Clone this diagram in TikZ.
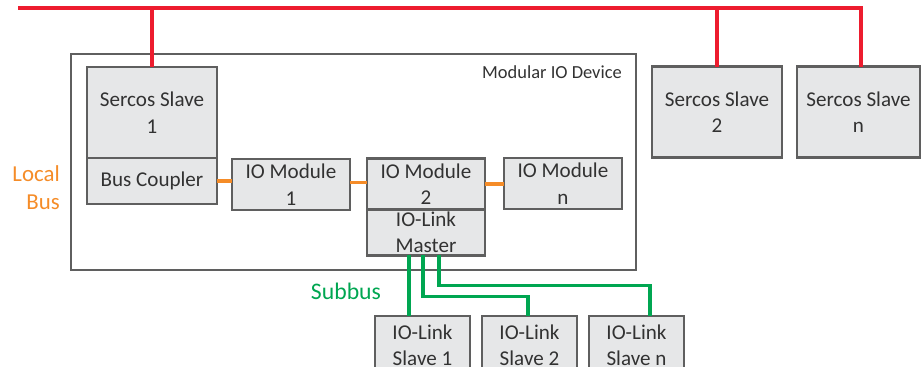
\documentclass[tikz,border=0pt]{standalone}
\usepackage{fontspec}
\setmainfont{Carlito}
\definecolor{sercosred}{RGB}{237, 28, 46}
\definecolor{localorange}{RGB}{245, 140, 40}
\definecolor{subgreen}{RGB}{0, 166, 81}
\definecolor{boxgray}{RGB}{230, 231, 232}
\definecolor{edgegray}{RGB}{95, 95, 95}
\definecolor{textgray}{RGB}{50, 50, 50}
\usetikzlibrary{positioning}

\begin{document}
\begin{tikzpicture}[
    x=0.02cm, y=-0.02cm,
    font=\fontsize{12}{15}\selectfont, text=textgray,
    unit/.style={draw=edgegray, line width=1.4pt, fill=boxgray, align=center, inner sep=0pt, outer sep=0pt},
    slavebox/.style={unit, minimum width=2.6cm, minimum height=1.82cm},
    modbox/.style={unit, minimum width=2.36cm, minimum height=1.02cm},
    linkbox/.style={unit, minimum width=1.9cm, minimum height=1.16cm},
    sercos/.style={line width=2.2pt, color=sercosred},
    localbus/.style={line width=2pt, color=localorange},
    subbus/.style={line width=2.2pt, color=subgreen}
  ]
    \useasboundingbox (0,0) rectangle (921,366);

    \node[draw=edgegray, line width=1pt, minimum width=11.3cm, minimum height=4.32cm] (device) at (353.5,162) {};
    \node[anchor=east, font=\fontsize{10.5}{13}\selectfont] (devlabel) at (628,72) {Modular IO Device};

    \node[slavebox] (sslave1) at (152,112.5) {Sercos Slave\\1};
    \node[slavebox, minimum height=0.92cm, below=0pt of sslave1] (coupler) {Bus Coupler};
    \node[modbox] (mod1) at (291,184.5) {IO Module\\1};
    \node[modbox] (mod2) at (426,184) {IO Module\\2};
    \node[modbox, minimum height=0.92cm, below=0pt of mod2] (master) {IO-Link\\Master};
    \node[modbox] (modn) at (563,183.5) {IO Module\\n};
    \node[slavebox] (sslave2) at (717,112) {Sercos Slave\\2};
    \node[slavebox, minimum width=2.46cm] (sslaven) at (858.5,112) {Sercos Slave\\n};

    \node[linkbox, anchor=north] (islave1) at (422.5,316) {IO-Link\\Slave 1};
    \node[linkbox, anchor=north] (islave2) at (529.5,316) {IO-Link\\Slave 2};
    \node[linkbox, anchor=north] (islaven) at (636.5,316) {IO-Link\\Slave n};

    \node[anchor=east, align=right, text=localorange, font=\fontsize{13}{16}\selectfont] (lbllocal) at (66,188) {Local\\Bus};
    \node[text=subgreen, font=\fontsize{13.5}{16}\selectfont] (lblsub) at (346,291) {Subbus};

    % sercos bus
    \coordinate (busstart) at (18,8);
    \draw[sercos] (busstart) -| ([xshift=0.05cm]sslaven.north);
    \draw[sercos] (sslave1.north) -- (sslave1.north |- busstart);
    \draw[sercos] (sslave2.north) -- (sslave2.north |- busstart);

    % local bus
    \draw[localbus] (coupler.east) -- (coupler.east -| mod1.west);
    \draw[localbus] ([yshift=0.04cm]mod1.east) -- ([yshift=0.04cm]mod1.east -| mod2.west);
    \draw[localbus] (mod2.east) -- (mod2.east -| modn.west);

    % subbus
    \draw[subbus] ([xshift=-0.34cm]master.south) -- ([xshift=-0.34cm]master.south |- islave1.north);
    \draw[subbus] ([xshift=-0.06cm]master.south) -- ++(0,41) -| ([xshift=-0.03cm]islave2.north);
    \draw[subbus] ([xshift=0.26cm]master.south) -- ++(0,30) -| ([xshift=0.27cm]islaven.north);
  \end{tikzpicture}
\end{document}
